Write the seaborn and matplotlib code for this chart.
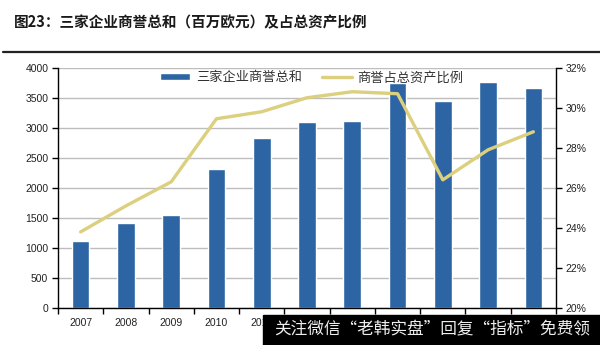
import numpy as np
import pandas as pd
import matplotlib
matplotlib.use("Agg")
import matplotlib.pyplot as plt
import seaborn as sns

years = ["2007", "2008", "2009", "2010", "2011", "2012", "2013", "2014", "2015", "2016", "2017"]
goodwill = [1120, 1420, 1540, 2310, 2830, 3100, 3120, 3740, 3440, 3770, 3660]
ratio = [23.8, 25.1, 26.3, 29.45, 29.8, 30.5, 30.8, 30.7, 26.4, 27.9, 28.8]
bar_label = "三家企业商誉总和"
line_label = "商誉占总资产比例"
title = "图23：三家企业商誉总和（百万欧元）及占总资产比例"
watermark = "关注微信“老韩实盘”回复“指标”免费领"
# year labels hidden under the watermark banner in the reference
hidden_years = ["2012", "2013", "2014", "2015", "2016", "2017"]

sns.set_theme(style="white")
plt.rcParams["font.family"] = ["Liberation Sans", "Noto Sans CJK SC", "DejaVu Sans"]

bar_color = "#2d65a4"
line_color = "#dccf7e"

df = pd.DataFrame({"year": years, "goodwill": goodwill, "ratio": ratio})

fig = plt.figure(figsize=(6.0, 3.45), dpi=100)
ax = fig.add_axes([58/600, 1-308/345, (556-58)/600, (308-67.7)/345])

sns.barplot(data=df, x="year", y="goodwill", color=bar_color, width=0.39,
            saturation=1, ax=ax, label=bar_label, legend=False, zorder=2)
if ax.get_legend() is not None:
    ax.get_legend().remove()
ax.set_ylim(0, 4000)
ax.set_yticks(np.arange(0, 4001, 500))
ax.set_xlim(-0.5, len(years) - 0.5)
ax.yaxis.grid(True, color="#bdbdbd", linewidth=1.0, zorder=0)
ax.set_axisbelow(True)
ax.set_xlabel("")
ax.set_ylabel("")
ax.set_xticks(np.arange(len(years)))
ax.set_xticklabels(years)
for lab in ax.get_xticklabels():
    if lab.get_text() in hidden_years:
        lab.set_visible(False)
ax.set_xticks(np.arange(len(years) + 1) - 0.5, minor=True)
ax.tick_params(axis="x", which="major", length=0, labelsize=7.5, pad=7, colors="#222222")
ax.tick_params(axis="x", which="minor", length=4, width=1, color="black", direction="out", bottom=True)
ax.tick_params(axis="y", length=4, width=1, color="black", direction="out", left=True,
               labelsize=7.5, pad=3, labelcolor="#222222")
for s in ["left", "bottom"]:
    ax.spines[s].set_color("black")
    ax.spines[s].set_linewidth(1.0)
ax.spines["top"].set_visible(False)
ax.spines["right"].set_visible(False)

ax2 = ax.twinx()
sns.lineplot(x=np.arange(len(years)), y=ratio, color=line_color, linewidth=2.4,
             ax=ax2, label=line_label, legend=False, zorder=3)
ax2.set_ylim(20, 32)
ax2.set_yticks(np.arange(20, 33, 2))
ax2.set_yticklabels([f"{v}%" for v in range(20, 33, 2)])
ax2.tick_params(axis="y", length=4, width=1, color="black", direction="out", right=True,
                labelsize=7.5, pad=3, labelcolor="#222222")
ax2.spines["right"].set_color("black")
ax2.spines["right"].set_linewidth(1.0)
for s in ["left", "top", "bottom"]:
    ax2.spines[s].set_visible(False)
ax2.set_ylabel("")
ax2.grid(False)

h1, l1 = ax.get_legend_handles_labels()
h2, l2 = ax2.get_legend_handles_labels()
leg = ax2.legend(h1 + h2, l1 + l2, loc="upper left", bbox_to_anchor=(0.205, 0.985), ncol=2,
                 frameon=False, fontsize=9.5, handlelength=2.3, handleheight=0.4,
                 columnspacing=1.5, handletextpad=0.4, borderpad=0, borderaxespad=0)
for t in leg.get_texts():
    t.set_family(["Noto Sans CJK SC", "DejaVu Sans"])
    t.set_color("#333333")

fig.text(14/600, 1-22/345, title, fontsize=10.5, fontweight="bold",
         family=["Noto Sans CJK SC", "DejaVu Sans"], va="center", ha="left", color="#1a1a1a")
fig.add_artist(plt.Line2D([3/600, 1.0], [1-52/345, 1-52/345], color="#222222", linewidth=1.6))

fig.add_artist(plt.Rectangle((263/600, 0), (600-263)/600, 30/345, color="black", zorder=10))
fig.text(274/600, 15/345, watermark, fontsize=12.0, family=["Noto Sans CJK SC", "DejaVu Sans"],
         color="#eeeeee", va="center", ha="left", zorder=11)

fig.savefig("out.png", dpi=100)
